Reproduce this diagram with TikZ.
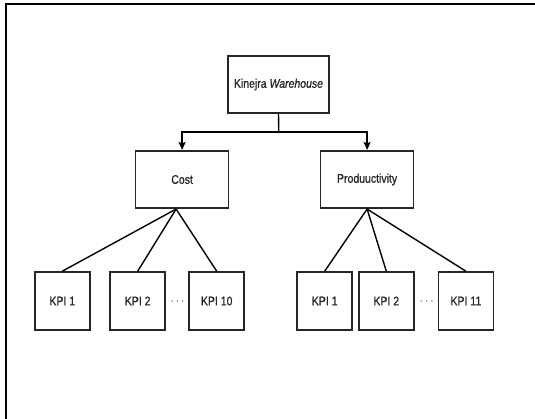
\documentclass[tikz,border=0pt]{standalone}
\usepackage{fontspec}
\setmainfont{Liberation Sans}[FakeStretch=0.84,FakeBold=0.8]
\usetikzlibrary{arrows.meta,positioning}
\begin{document}
\begin{tikzpicture}[x=1pt,y=-1pt,
  box/.style={draw=black!85,line width=1.6pt,fill=white,inner sep=0pt,font=\fontsize{12.5}{14}\selectfont,text=black!85},
  link/.style={draw=black,line width=1.4pt},
  arr/.style={link,-{Stealth[length=8pt,width=7pt,inset=1.5pt]}},
  dotsnode/.style={font=\fontsize{12}{14}\selectfont,text=black!80,inner sep=0pt}]
\useasboundingbox (0,0) rectangle (535,418);
\fill[white] (0,0) rectangle (535,418);
\draw[line width=2pt,black] (6,4) rectangle (545,430);
% top
\node[box,minimum width=101pt,minimum height=57pt] (top) at (278.5,84.5) {Kinejra \textit{Warehouse}};
% level 2
\node[box,minimum width=93pt,minimum height=57.5pt] (cost) at (182.1,179.5) {Cost};
\node[box,minimum width=93pt,minimum height=57.5pt] (prod) at (367.1,179.5) {Produuctivity};
% KPIs
\tikzset{kpi/.style={box,minimum width=55pt,minimum height=58pt}}
\node[kpi] (c1) at (62.3,301) {KPI 1};
\node[kpi] (c2) at (137.7,301) {KPI 2};
\node[kpi] (c10) at (216.7,301) {KPI 10};
\node[kpi] (p1) at (324.7,301) {KPI 1};
\node[kpi] (p2) at (386.3,301) {KPI 2};
\node[kpi] (p11) at (465.9,301) {KPI 11};
\node[dotsnode] (d1) at (177.5,302) {$\cdots$};
\node[dotsnode] (d2) at (426.6,302) {$\cdots$};
% connectors
\coordinate (hj) at (278.8,132);
\draw[link] (top.south) -- (hj);
\draw[arr] (hj) -| (cost.north);
\draw[arr] (hj) -| (prod.north);
\coordinate (cs) at ([xshift=-6pt]cost.south);
\draw[link] (cs) -- (c1.north);
\draw[link] (cs) -- (c2.north);
\draw[link] (cs) -- (c10.north);
\draw[link] (prod.south) -- (p1.north);
\draw[link] (prod.south) -- (p2.north);
\draw[link] (prod.south) -- (p11.north);
\end{tikzpicture}
\end{document}
